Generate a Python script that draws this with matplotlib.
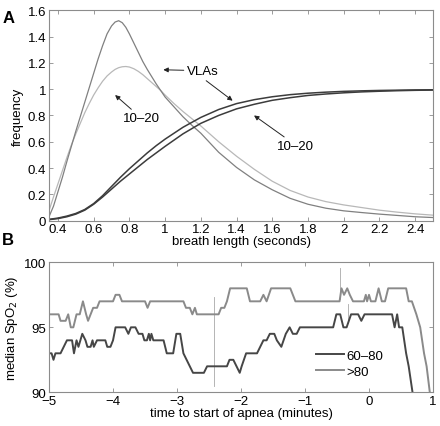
import matplotlib
matplotlib.use("Agg")
import matplotlib.pyplot as plt

plt.rcParams['font.family'] = ['Liberation Sans', 'DejaVu Sans']
plt.rcParams['font.size'] = 9.5

# panel A: breath length distributions
pdf_x = [0.350, 0.375, 0.400, 0.425, 0.450, 0.475, 0.500, 0.525, 0.550, 0.575,
         0.600, 0.625, 0.650, 0.675, 0.700, 0.720, 0.740, 0.760, 0.780, 0.800,
         0.825, 0.850, 0.875, 0.900, 0.925, 0.950, 0.975, 1.000, 1.050, 1.100,
         1.150, 1.200, 1.300, 1.400, 1.500, 1.600, 1.700, 1.800, 1.900, 2.000,
         2.100, 2.200, 2.300, 2.400, 2.500]
pdf_vla = [0.03, 0.11, 0.22, 0.33, 0.45, 0.565, 0.68, 0.79, 0.90, 1.01,
           1.12, 1.23, 1.33, 1.42, 1.48, 1.51, 1.52, 1.505, 1.47, 1.42,
           1.35, 1.28, 1.21, 1.15, 1.095, 1.04, 0.99, 0.94, 0.865, 0.79,
           0.725, 0.665, 0.52, 0.405, 0.31, 0.235, 0.17, 0.125, 0.095, 0.075,
           0.062, 0.05, 0.04, 0.03, 0.024]
pdf_1020 = [0.076, 0.18, 0.28, 0.38, 0.48, 0.575, 0.66, 0.74, 0.82, 0.89,
            0.955, 1.01, 1.06, 1.10, 1.13, 1.15, 1.163, 1.17, 1.172, 1.168,
            1.155, 1.135, 1.11, 1.08, 1.05, 1.02, 0.99, 0.955, 0.89, 0.83,
            0.775, 0.72, 0.60, 0.49, 0.39, 0.30, 0.23, 0.18, 0.145, 0.12,
            0.10, 0.08, 0.065, 0.052, 0.042]

cdf_x = [0.35, 0.40, 0.45, 0.50, 0.55, 0.60, 0.65, 0.70, 0.75, 0.80,
         0.85, 0.90, 0.95, 1.00, 1.10, 1.20, 1.30, 1.40, 1.50, 1.60,
         1.70, 1.80, 1.90, 2.00, 2.10, 2.20, 2.30, 2.40, 2.50]
cdf_vla = [0.01, 0.02, 0.035, 0.055, 0.085, 0.13, 0.19, 0.26, 0.33, 0.395,
           0.455, 0.515, 0.57, 0.62, 0.71, 0.785, 0.845, 0.89, 0.92, 0.942,
           0.958, 0.969, 0.977, 0.983, 0.987, 0.99, 0.992, 0.994, 0.995]
cdf_1020 = [0.008, 0.016, 0.03, 0.05, 0.08, 0.125, 0.18, 0.24, 0.30, 0.355,
            0.41, 0.465, 0.515, 0.565, 0.66, 0.74, 0.80, 0.85, 0.885, 0.915,
            0.935, 0.952, 0.963, 0.972, 0.979, 0.984, 0.988, 0.991, 0.993]

# panel B: median SpO2 before apnea
t_hi = [-5.00, -4.85, -4.82, -4.74, -4.70, -4.66, -4.62, -4.57, -4.52, -4.47, -4.42,
        -4.39, -4.35, -4.31, -4.25, -4.21, -4.00, -3.96, -3.90, -3.86, -3.50, -3.46,
        -3.42, -2.90, -2.86, -2.80, -2.76, -2.72, -2.69, -2.35, -2.31, -2.26, -2.22,
        -2.17, -1.91, -1.86, -1.70, -1.65, -1.60, -1.53, -1.23, -1.15, -0.46, -0.43,
        -0.39, -0.34, -0.30, -0.25, -0.08, -0.05, -0.03, 0.00, 0.03, 0.10, 0.15,
        0.20, 0.25, 0.30, 0.58, 0.62, 0.67, 0.74, 0.80, 0.86, 0.90, 0.95, 0.97]
spo2_hi = [96, 96, 95.5, 95.5, 96, 95, 95, 96, 96, 97, 96,
           95.5, 96, 96.5, 96.5, 97, 97, 97.5, 97.5, 97, 97, 96.5,
           97, 97, 96.5, 96.5, 96, 96.5, 96, 96, 96.5, 96.5, 97,
           98, 98, 97, 97, 97.5, 97, 98, 98, 97, 97, 98,
           97.5, 98, 97.5, 97, 97, 97.5, 97, 97.5, 97, 97, 98,
           97, 97, 98, 98, 97, 97, 96, 95, 93, 92, 90, 89]
t_mid = [-5.00, -4.96, -4.93, -4.90, -4.82, -4.77, -4.72, -4.64, -4.61, -4.57, -4.54,
         -4.51, -4.48, -4.43, -4.40, -4.35, -4.32, -4.30, -4.25, -4.12, -4.09, -4.04,
         -4.00, -3.96, -3.81, -3.76, -3.72, -3.65, -3.60, -3.54, -3.51, -3.47, -3.44,
         -3.42, -3.40, -3.37, -3.21, -3.16, -3.06, -3.01, -2.95, -2.90, -2.85, -2.80,
         -2.75, -2.58, -2.53, -2.22, -2.18, -2.12, -2.07, -2.02, -1.99, -1.92, -1.75,
         -1.70, -1.65, -1.60, -1.55, -1.48, -1.44, -1.37, -1.30, -1.24, -1.19, -1.13,
         -1.08, -0.56, -0.51, -0.45, -0.40, -0.35, -0.28, -0.17, -0.12, -0.07, 0.36,
         0.40, 0.44, 0.47, 0.52, 0.58, 0.62, 0.65, 0.68, 0.70]
spo2_mid = [93, 93, 92.5, 93, 93, 93.5, 94, 94, 93, 94, 93.5,
            94, 94.5, 94, 93.5, 93.5, 94, 93.5, 94, 94, 93.5, 93.5,
            94, 95, 95, 94.5, 95, 95, 94.5, 94.5, 94, 94, 94.5,
            94, 94.5, 94, 94, 93, 93, 94.5, 94.5, 93, 92.5, 92,
            91.5, 91.5, 92, 92, 92.5, 92.5, 92, 91.5, 92, 93, 93,
            93.5, 94, 94, 94.5, 94.5, 94, 93.5, 94.5, 95, 94.5, 94.5,
            95, 95, 96, 96, 95, 95, 96, 96, 95.5, 96, 96,
            95, 96, 95, 95, 93, 92, 91, 90, 89]


def style_axes(ax):
    for s in ax.spines.values():
        s.set_color('#8c8c8c')
        s.set_linewidth(0.8)
    ax.tick_params(direction='in', top=True, right=True, length=3,
                   color='#8c8c8c', width=0.6, labelsize=9.5, pad=2)


fig = plt.figure(figsize=(4.4, 4.27), dpi=100)

# ---- panel A ----
ax1 = fig.add_axes([0.1114, 0.4808, 0.8727, 0.493])
ax1.plot(pdf_x, pdf_1020, color='#b8b8b8', lw=0.9)
ax1.plot(pdf_x, pdf_vla, color='#808080', lw=0.9)
ax1.plot(cdf_x, cdf_1020, color='#3c3c3c', lw=1.1)
ax1.plot(cdf_x, cdf_vla, color='#3c3c3c', lw=1.1)
ax1.set_xlim(0.35, 2.5)
ax1.set_ylim(0, 1.6)
ax1.set_xticks([0.4, 0.6, 0.8, 1, 1.2, 1.4, 1.6, 1.8, 2, 2.2, 2.4])
ax1.set_xticklabels(['0.4', '0.6', '0.8', '1', '1.2', '1.4', '1.6', '1.8', '2', '2.2', '2.4'])
ax1.set_yticks([0, 0.2, 0.4, 0.6, 0.8, 1, 1.2, 1.4, 1.6])
ax1.set_yticklabels(['0', '0.2', '0.4', '0.6', '0.8', '1', '1.2', '1.4', '1.6'])
ax1.set_xlabel('breath length (seconds)', labelpad=0)
ax1.set_ylabel('frequency', labelpad=3)
style_axes(ax1)

arrow = dict(arrowstyle='-|>', color='#222222', lw=0.7, mutation_scale=7,
             shrinkA=0, shrinkB=0)
ax1.annotate('VLAs', xy=(0.99, 1.147), xytext=(1.12, 1.14),
             ha='left', va='center', fontsize=9.5, arrowprops=arrow)
ax1.annotate('', xy=(1.378, 0.912), xytext=(1.23, 1.064), arrowprops=arrow)
ax1.annotate('10\u201320', xy=(0.72, 0.955), xytext=(0.87, 0.78),
             ha='center', va='center', fontsize=9.5,
             arrowprops=dict(arrow, relpos=(0.3, 1.0)))
ax1.annotate('10\u201320', xy=(1.498, 0.80), xytext=(1.73, 0.57),
             ha='center', va='center', fontsize=9.5,
             arrowprops=dict(arrow, relpos=(0.3, 1.0)))

# ---- panel B ----
ax2 = fig.add_axes([0.1114, 0.0789, 0.8727, 0.3044])
ax2.plot([-2.42, -2.42], [90.5, 97.3], color='#a8a8a8', lw=0.6)
ax2.plot([-0.45, -0.45], [97.2, 99.6], color='#a8a8a8', lw=0.6)
ax2.plot([-0.33, -0.33], [95.3, 96.8], color='#a8a8a8', lw=0.6)
ax2.plot(t_mid, spo2_mid, color='#464646', lw=1.4, label='60\u201380')
ax2.plot(t_hi, spo2_hi, color='#8a8a8a', lw=1.4, label='>80')
ax2.set_xlim(-5, 1)
ax2.set_ylim(90, 100)
ax2.set_xticks([-5, -4, -3, -2, -1, 0, 1])
ax2.set_xticklabels(['\u22125', '\u22124', '\u22123', '\u22122', '\u22121', '0', '1'])
ax2.set_yticks([90, 95, 100])
ax2.set_xlabel('time to start of apnea (minutes)', labelpad=0)
ax2.set_ylabel('median SpO$_2$ (%)', labelpad=3)
style_axes(ax2)
ax2.legend(frameon=False, loc='lower left', bbox_to_anchor=(0.665, 0.02),
           handlelength=2.1, handletextpad=0.2, labelspacing=0.3, fontsize=9.5)

fig.text(0.005, 0.975, 'A', fontsize=12, fontweight='bold', va='top')
fig.text(0.005, 0.455, 'B', fontsize=12, fontweight='bold', va='top')

fig.savefig('out.png', dpi=100)
